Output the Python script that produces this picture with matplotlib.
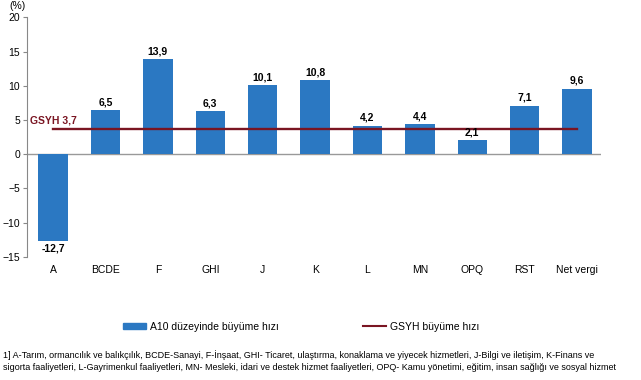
import matplotlib
matplotlib.use("Agg")
import matplotlib.pyplot as plt
from matplotlib.lines import Line2D
from matplotlib.patches import Patch

categories = ["A", "BCDE", "F", "GHI", "J", "K", "L", "MN", "OPQ", "RST", "Net vergi"]
growth = [-12.7, 6.5, 13.9, 6.3, 10.1, 10.8, 4.2, 4.4, 2.1, 7.1, 9.6]
gdp_growth = 3.7

BAR_COLOR = "#2b78c2"
LINE_COLOR = "#7a1522"

plt.rcParams["font.family"] = ["Liberation Sans", "DejaVu Sans"]

fig = plt.figure(figsize=(6.41, 3.80), dpi=100)
ax = fig.add_axes([0.042, 0.324, 0.895, 0.63])

x = list(range(len(categories)))
ax.bar(x, growth, width=0.56, color=BAR_COLOR, zorder=2)
ax.plot([x[0], x[-1]], [gdp_growth, gdp_growth], color=LINE_COLOR, lw=1.7, zorder=3)
ax.axhline(0, color="#999999", lw=1, zorder=1)

for xi, v in zip(x, growth):
    label = f"{v:.1f}".replace(".", ",")
    if v >= 0:
        ax.text(xi, v + 0.4, label, ha="center", va="bottom", fontsize=7.5, fontweight="bold")
    else:
        ax.text(xi, v - 0.3, label, ha="center", va="top", fontsize=7.5, fontweight="bold")

ax.text(-0.45, gdp_growth + 0.5, "GSYH 3,7", color=LINE_COLOR, fontsize=7.5, fontweight="bold",
        ha="left", va="bottom")

ax.set_ylim(-15, 20)
ax.set_xlim(-0.5, len(categories) - 0.55)
ax.set_yticks(range(-15, 21, 5))
ax.set_xticks(x)
ax.set_xticklabels(categories, fontsize=7.5)
ax.tick_params(axis="y", labelsize=7.5, length=3, pad=2, color="#888888")
ax.tick_params(axis="x", length=0, pad=6)
for side in ["top", "right", "bottom"]:
    ax.spines[side].set_visible(False)
ax.spines["left"].set_color("#888888")

fig.text(0.014, 0.997, "(%)", fontsize=7.5, ha="left", va="top")

handles = [Patch(color=BAR_COLOR, label="A10 düzeyinde büyüme hızı"),
           Line2D([], [], color=LINE_COLOR, lw=1.5, label="GSYH büyüme hızı")]
fig.legend(handles=handles, loc="center", bbox_to_anchor=(0.47, 0.14), ncol=2, frameon=False,
           fontsize=7.5, handlelength=2.2, handleheight=0.6, handletextpad=0.4, columnspacing=8)

footnote = ("1] A-Tarım, ormancılık ve balıkçılık, BCDE-Sanayi, F-İnşaat, GHI- Ticaret, ulaştırma, "
            "konaklama ve yiyecek hizmetleri, J-Bilgi ve iletişim, K-Finans ve\n"
            "sigorta faaliyetleri, L-Gayrimenkul faaliyetleri, MN- Mesleki, idari ve destek hizmet "
            "faaliyetleri, OPQ- Kamu yönetimi, eğitim, insan sağlığı ve sosyal hizmet")
fig.text(0.004, 0.078, footnote, fontsize=6.5, ha="left", va="top", linespacing=1.4)

fig.savefig("out.png", dpi=100)
